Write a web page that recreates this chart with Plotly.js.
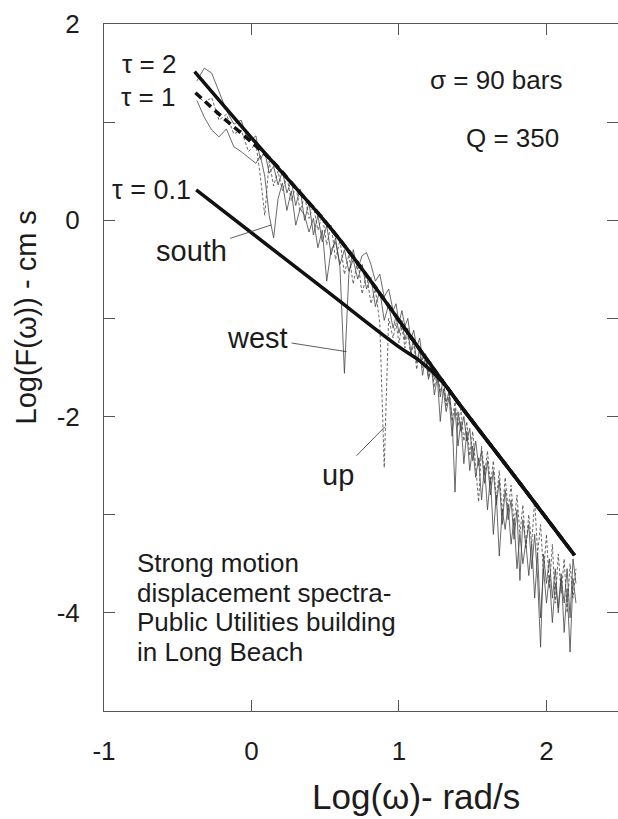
<!DOCTYPE html>
<html>
<head>
<meta charset="utf-8">
<script src="https://cdn.plot.ly/plotly-3.0.1.min.js"></script>
<style>html,body{margin:0;padding:0;background:#fff;}#chart{width:618px;height:819px;}</style>
</head>
<body>
<div id="chart"></div>
<script>
// log10 of angular frequency (shared sampling of the three components)
const logOmega = [
  -0.37,-0.32,-0.27,-0.22,-0.17,-0.12,-0.07,-0.02,0.03,
  0.06,0.09,0.12,0.15,0.18,0.21,0.24,0.27,0.30,0.33,0.36,0.39,0.42,0.45,0.48,0.51,0.54,0.57,0.60,0.63,0.66,0.69,0.72,0.75,0.78,0.81,0.84,0.87,0.90,0.93,0.96,
  0.98,1.00,1.02,1.04,1.06,1.08,1.10,1.12,1.14,1.16,1.18,1.20,1.22,1.24,1.26,1.28,1.30,1.32,1.34,1.36,1.38,1.40,1.42,1.44,1.46,1.48,1.50,1.52,1.54,1.56,1.58,1.60,
  1.62,1.64,1.66,1.68,1.70,1.72,1.74,1.76,1.78,1.80,1.82,1.84,1.86,1.88,1.90,1.92,1.94,1.96,1.98,2.00,2.02,2.04,2.06,2.08,2.10,2.12,2.14,2.16,2.18,2.20
];
const southSpec = [
  1.22,1.05,0.92,0.85,0.93,0.75,0.70,0.64,0.58,
  0.66,0.45,0.05,-0.18,0.22,0.38,0.10,0.30,-0.05,0.12,0.05,-0.12,0.02,-0.28,-0.10,-0.62,-0.30,-0.22,-0.45,-0.30,-0.52,-0.40,-0.60,-0.45,-0.70,-0.58,-0.88,-0.72,-1.02,-0.86,-1.10,
  -0.98,-1.15,-1.02,-1.22,-1.10,-1.35,-1.20,-1.45,-1.32,-1.58,-1.40,-1.62,-1.50,-1.78,-1.60,-2.05,-1.72,-1.95,-1.80,-2.20,-1.92,-2.30,-2.05,-2.48,-2.15,-2.55,-2.30,-2.62,-2.42,-2.85,-2.50,-2.95,
  -2.62,-3.20,-2.80,-3.42,-2.95,-3.15,-2.90,-3.30,-3.05,-3.55,-3.20,-3.50,-3.28,-3.62,-3.30,-3.85,-3.40,-4.05,-3.55,-3.90,-3.62,-4.10,-3.70,-3.95,-3.60,-4.20,-3.75,-4.40,-3.65,-3.90
];
const westSpec = [
  1.42,1.55,1.50,1.30,1.12,0.98,1.02,0.80,0.86,
  0.62,0.70,0.48,0.55,0.36,0.50,0.28,0.40,0.15,0.32,0.00,0.18,-0.15,0.05,-0.22,-0.05,-0.35,-0.18,-0.48,-1.56,-0.55,-0.30,-0.50,-0.36,-0.33,-0.45,-0.62,-0.55,-0.78,-0.70,-0.92,
  -0.85,-1.05,-0.92,-1.08,-1.00,-1.22,-1.12,-1.30,-1.20,-1.42,-1.36,-1.55,-1.45,-1.62,-1.55,-1.80,-1.62,-1.85,-1.75,-2.00,-2.77,-1.95,-2.15,-2.00,-2.25,-2.12,-2.45,-2.25,-2.50,-2.35,-2.68,-2.45,
  -2.80,-2.55,-2.90,-2.65,-3.10,-2.75,-3.05,-2.85,-3.25,-2.95,-3.67,-3.05,-3.30,-3.10,-3.55,-3.20,-3.65,-4.35,-3.40,-3.70,-3.45,-3.85,-3.55,-4.00,-3.65,-3.90,-3.55,-4.05,-3.45,-3.70
];
const upSpec = [
  1.28,1.20,1.25,1.02,1.08,0.88,0.92,0.70,0.78,
  0.45,0.05,0.60,0.35,0.50,0.30,0.45,0.20,0.35,0.10,0.25,0.02,0.15,-0.10,0.05,-0.25,-0.05,-0.40,-0.20,-0.55,-0.35,-0.65,-0.40,-0.75,-0.55,-0.85,-0.70,-1.05,-2.52,-1.00,-1.20,
  -1.05,-1.25,-1.08,-1.30,-1.15,-1.38,-1.25,-1.52,-1.30,-1.50,-1.38,-1.60,-1.48,-1.70,-1.55,-1.75,-1.62,-1.90,-1.72,-2.05,-1.85,-2.10,-1.92,-2.25,-2.05,-2.40,-2.15,-2.55,-2.87,-2.30,-2.60,-2.35,
  -2.70,-2.45,-2.85,-2.55,-3.00,-2.62,-2.95,-2.70,-3.10,-2.80,-3.20,-2.90,-3.35,-3.00,-3.30,-2.85,-3.40,-3.10,-3.60,-3.20,-3.75,-3.30,-3.90,-3.40,-3.80,-3.45,-4.00,-3.50,-3.85,-3.55
];
// model spectra
const tau2X = [-0.386, 0.0, 0.3, 0.45, 0.6, 0.8, 1.0, 1.2, 1.4, 1.8, 2.19];
const tau2Y = [1.514, 0.84, 0.33, 0.075, -0.2, -0.6, -1.02, -1.44, -1.855, -2.64, -3.413];
const tau1X = [-0.38, -0.2, -0.04, 0.05, 0.15, 0.3, 0.45, 0.6, 0.8, 1.0, 1.2, 1.4, 1.8, 2.19];
const tau1Y = [1.30, 1.055, 0.85, 0.73, 0.59, 0.33, 0.075, -0.2, -0.6, -1.02, -1.44, -1.855, -2.64, -3.413];
const tau01X = [-0.375, 0.5, 1.0, 1.139, 1.3, 1.4, 1.8, 2.19];
const tau01Y = [0.309, -0.71, -1.29, -1.43, -1.655, -1.855, -2.64, -3.413];

const xTicks = [-1, 0, 1, 2];
const xTickText = ['-1', '0', '1', '2'];
const yTicks = [-5, -4, -3, -2, -1, 0, 1, 2];
const yTickText = ['', '-4', '', '-2', '', '0', '', '2'];

const FONT = 'Liberation Sans, Arial, Helvetica, sans-serif';
const INK = '#1c1c1c';
const thin = '#444444';

const traces = [
  {x: logOmega, y: southSpec, mode: 'lines', name: 'south', line: {color: thin, width: 0.8}},
  {x: logOmega, y: westSpec, mode: 'lines', name: 'west', line: {color: thin, width: 0.8}},
  {x: logOmega, y: upSpec, mode: 'lines', name: 'up', line: {color: thin, width: 0.8, dash: '3px,2px'}},
  {x: tau01X, y: tau01Y, mode: 'lines', name: 'τ=0.1', line: {color: '#111', width: 3.5, shape: 'spline', smoothing: 1}},
  {x: tau1X, y: tau1Y, mode: 'lines', name: 'τ=1', line: {color: '#111', width: 3.5, dash: '8px,5px', shape: 'spline', smoothing: 1}},
  {x: tau2X, y: tau2Y, mode: 'lines', name: 'τ=2', line: {color: '#111', width: 3.5, shape: 'spline', smoothing: 1}}
];

function txt(text, x, y, size, xanchor) {
  return {text: text, x: x, y: y, xref: 'x', yref: 'y', showarrow: false,
          xanchor: xanchor || 'left', yanchor: 'middle', font: {family: FONT, size: size, color: INK}};
}
function pointer(text, x, y, ax, ay) {
  return {text: text, x: x, y: y, xref: 'x', yref: 'y', showarrow: true, arrowhead: 0,
          arrowwidth: 0.8, arrowcolor: '#333', ax: ax, ay: ay, standoff: 0, startstandoff: 2,
          font: {family: FONT, size: 29, color: INK}};
}

const annotations = [
  txt('τ = 2', -0.498, 1.592, 26, 'right'),
  txt('τ = 1', -0.505, 1.256, 26, 'right'),
  txt('τ = 0.1', -0.397, 0.309, 27, 'right'),
  txt('σ = 90 bars', 1.197, 1.429, 26, 'left'),
  txt('Q = 350', 1.441, 0.838, 26, 'left'),
  pointer('south', 0.134, -0.048, -80, 26),
  pointer('west', 0.645, -1.339, -89, -14),
  pointer('up', 0.905, -2.103, -47, 48),
  txt('Strong motion', -0.79, 2 - (563.1 - 24) / 98.14, 26, 'left'),
  txt('displacement spectra-', -0.79, 2 - (592.7 - 24) / 98.14, 26, 'left'),
  txt('Public Utilities building', -0.79, 2 - (622.3 - 24) / 98.14, 26, 'left'),
  txt('in Long Beach', -0.79, 2 - (651.9 - 24) / 98.14, 26, 'left'),
  {text: 'Log(ω)- rad/s', x: (415.7 - 104) / 514, y: -(796 - 711) / 687, xref: 'paper', yref: 'paper',
   showarrow: false, xanchor: 'center', yanchor: 'middle', font: {family: FONT, size: 35, color: INK}},
  {text: 'Log(F(ω)) - cm s', x: -(104 - 25) / 514, y: (711 - 317.5) / 687, xref: 'paper', yref: 'paper',
   textangle: -90, showarrow: false, xanchor: 'center', yanchor: 'middle', font: {family: FONT, size: 29, color: INK}}
];

const axisCommon = {
  showgrid: false, zeroline: false, showline: true, linecolor: '#555', linewidth: 1,
  ticks: 'inside', ticklen: 11, tickcolor: '#555', tickwidth: 1, mirror: 'ticks',
  tickmode: 'array', tickfont: {family: FONT, size: 26, color: INK}
};

const layout = {
  width: 618, height: 819,
  margin: {l: 104, r: 0, t: 24, b: 108},
  paper_bgcolor: '#fff', plot_bgcolor: '#fff',
  showlegend: false,
  xaxis: Object.assign({}, axisCommon, {range: [-1, 2.485], tickvals: xTicks, ticktext: xTickText, ticklabelstandoff: 17}),
  yaxis: Object.assign({}, axisCommon, {range: [-5, 2], tickvals: yTicks, ticktext: yTickText, ticklabelstandoff: 18}),
  annotations: annotations
};

Plotly.newPlot('chart', traces, layout, {staticPlot: true, displayModeBar: false});
</script>
</body>
</html>
